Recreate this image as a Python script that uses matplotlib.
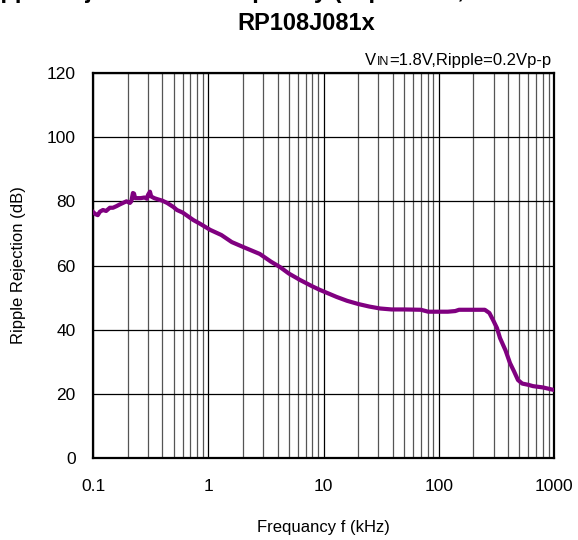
import matplotlib
matplotlib.use("Agg")
import matplotlib.pyplot as plt
from matplotlib.ticker import FixedLocator, NullFormatter, LogLocator

plt.rcParams['font.family'] = ['Liberation Sans', 'DejaVu Sans']

title_line1 = "Ripple Rejection vs. Frequency (Topt=25°C, IOUT=30mA)"
title_line2 = "RP108J081x"
cond_text = "=1.8V,Ripple=0.2Vp-p"
xlabel = "Frequancy f (kHz)"
ylabel = "Ripple Rejection (dB)"
xticks = [0.1, 1, 10, 100, 1000]
xticklabels = ["0.1", "1", "10", "100", "1000"]
yticks = [0, 20, 40, 60, 80, 100, 120]

freq = [0.1, 0.105, 0.11, 0.115, 0.122, 0.13, 0.14, 0.149, 0.16, 0.17, 0.182, 0.195,
        0.209, 0.215, 0.222, 0.227, 0.232, 0.24, 0.26, 0.28, 0.294, 0.3, 0.312, 0.32,
        0.34, 0.36, 0.4, 0.44, 0.5, 0.535, 0.6, 0.74, 0.85, 1.04, 1.3, 1.6, 2.0, 2.8,
        3.5, 4.2, 5.0, 6.25, 8, 9.3, 11, 13, 16, 20, 25, 31, 39, 50, 70, 81, 100, 120,
        139, 150, 200, 251, 275, 296, 320, 340, 380, 415, 450, 487, 530, 600, 657, 800, 1000]
rr = [76.7, 76.0, 75.7, 76.8, 77.3, 77.0, 78.0, 78.0, 78.5, 79.0, 79.5, 80.0,
      79.5, 80.0, 82.6, 82.4, 81.0, 81.0, 81.0, 81.2, 80.8, 82.0, 83.0, 81.5,
      81.0, 80.7, 80.2, 79.5, 78.2, 77.3, 76.5, 74.2, 73.0, 71.1, 69.5, 67.3, 65.8, 63.6,
      61.2, 59.5, 57.5, 55.5, 53.5, 52.4, 51.3, 50.2, 49.0, 48.0, 47.2, 46.6, 46.3, 46.3, 46.2, 45.6, 45.6, 45.6,
      45.8, 46.2, 46.2, 46.2, 45.2, 43.0, 40.5, 37.4, 33.5, 29.6, 27.0, 24.3, 23.2, 22.8, 22.4, 22.0, 21.2]

W, H = 578, 540
fig = plt.figure(figsize=(W/100, H/100), dpi=100)
ax = fig.add_axes([93/W, 1-458/H, (554-93)/W, (458-73)/H])

ax.plot(freq, rr, color='#800080', lw=3, solid_joinstyle='round', zorder=3)
ax.set_xscale('log')
ax.set_xlim(0.1, 1000)
ax.set_ylim(0, 120)
ax.xaxis.set_major_locator(FixedLocator(xticks))
ax.set_xticklabels(xticklabels)
ax.xaxis.set_minor_locator(LogLocator(base=10, subs=range(2, 10), numticks=20))
ax.xaxis.set_minor_formatter(NullFormatter())
ax.set_yticks(yticks)
ax.grid(which='major', color='black', lw=0.9)
ax.grid(which='minor', axis='x', color='#555555', lw=0.9)
ax.tick_params(which='both', length=0, labelsize=12.5)
ax.tick_params(axis='x', pad=15)
ax.tick_params(axis='y', pad=12.5)
for s in ax.spines.values():
    s.set_linewidth(1.6)
    s.set_color('black')
ax.set_xlabel(xlabel, fontsize=12, labelpad=19)
ax.set_ylabel(ylabel, fontsize=12, labelpad=15)

fig.text(-23/W, 1+2/H, title_line1, fontsize=17, fontweight='bold', ha='left', va='baseline')
fig.text(306/W, 1-30/H, title_line2, fontsize=17, fontweight='bold', ha='center', va='baseline')

t_main = fig.text(551/W, 1-65/H, cond_text, fontsize=12, ha='right', va='baseline')
t_in = ax.annotate("IN", xy=(0, 0), xycoords=t_main, ha='right', va='bottom', fontsize=9,
                   annotation_clip=False)
t_v = ax.annotate("V", xy=(0, 0), xycoords=t_in, ha='right', va='bottom', fontsize=12,
                  annotation_clip=False)

fig.savefig("out.png", dpi=100)
